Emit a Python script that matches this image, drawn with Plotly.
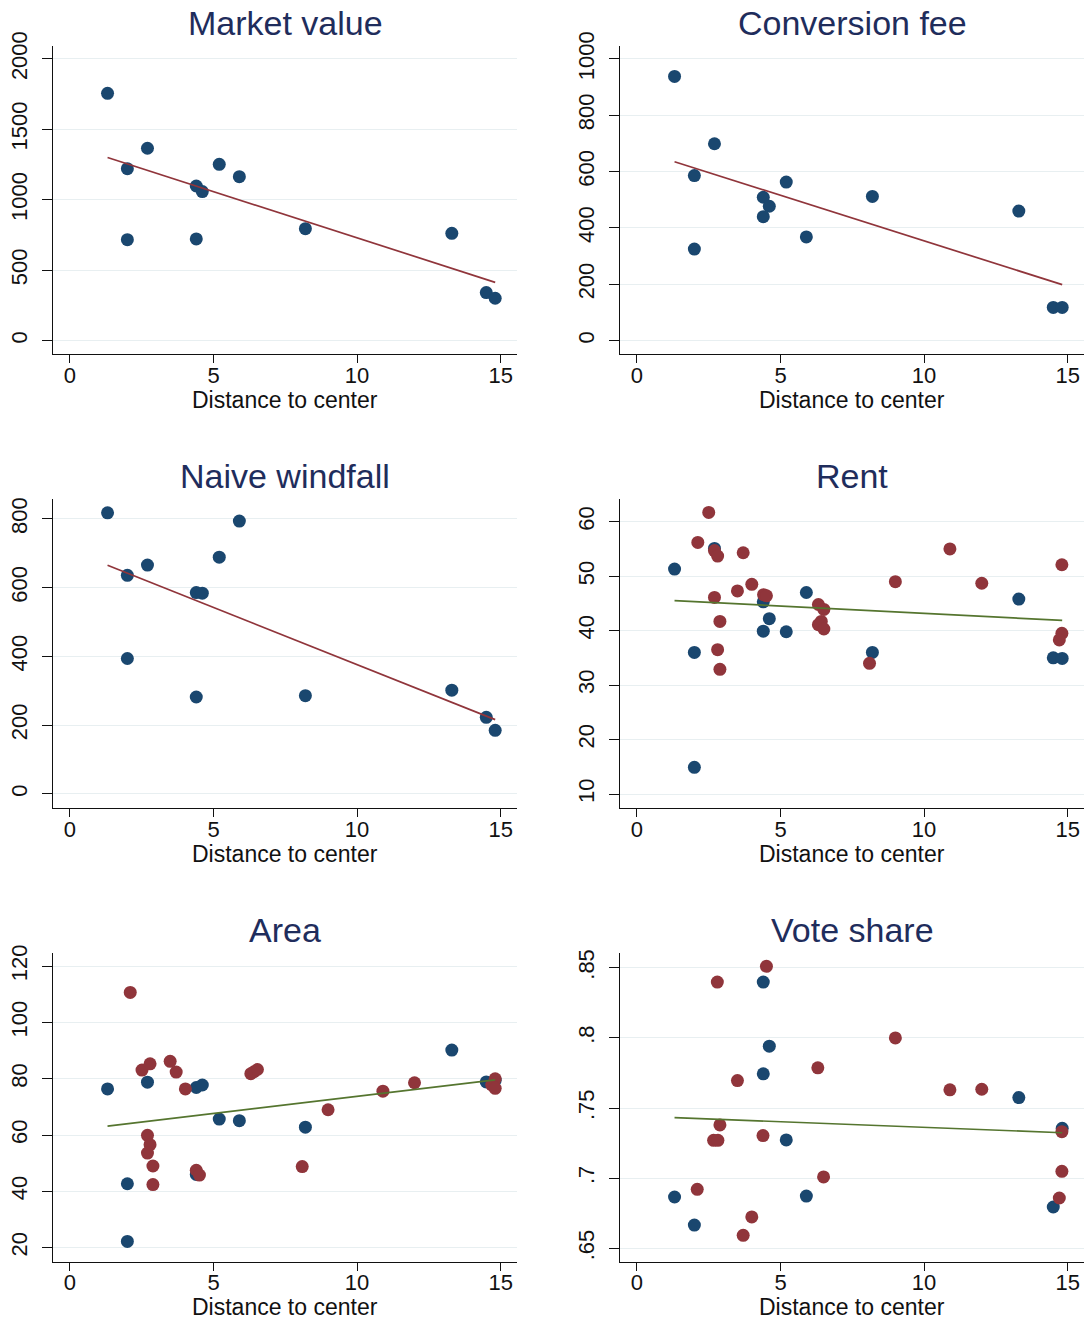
import numpy as np
import plotly.graph_objects as go

# ---------------- data ----------------
# distance to center for the 13 blue units (same units in every panel)
dist_blue = [1.31, 2.0, 2.0, 2.70, 4.40, 4.61, 4.40, 5.20, 5.90, 8.20, 13.30, 14.50, 14.81]

market_value = [1756, 1221, 717, 1366, 1098, 1058, 722, 1252, 1164, 795, 762, 341, 301]
conversion_fee = [938, 586, 325, 699, 509, 477, 440, 563, 368, 512, 460, 118, 118]
naive_windfall = [818, 636, 394, 666, 586, 584, 282, 689, 794, 286, 302, 223, 185]

rent_blue = [51.3, 36.0, 14.9, 55.1, 45.3, 42.2, 39.9, 39.8, 47.0, 36.0, 45.8, 35.0, 34.9]
area_blue = [76.4, 42.7, 22.2, 78.8, 76.9, 77.8, 46.0, 65.7, 65.1, 62.8, 90.2, 78.9, 79.5]
vote_blue = [0.6866, 0.6666, None, None, 0.8398, 0.7941, 0.7744, 0.7273, 0.6873, None, 0.7575, 0.6795, 0.7356]

rent_red_x = [2.12, 2.50, 2.70, 2.81, 3.70, 2.70, 3.50, 4.00, 4.41, 4.51, 2.89, 2.81, 2.89,
              6.32, 6.51, 6.42, 6.32, 6.51, 8.10, 9.00, 10.90, 12.01, 14.80, 14.80, 14.71]
rent_red_y = [56.2, 61.7, 54.7, 53.7, 54.3, 46.1, 47.3, 48.5, 46.6, 46.4, 41.7, 36.5, 32.9,
              44.8, 43.9, 41.7, 41.1, 40.3, 34.0, 49.0, 55.0, 48.7, 52.1, 39.5, 38.3]

area_red_x = [2.10, 2.51, 2.79, 3.49, 3.70, 4.02, 6.30, 6.41, 6.53, 10.90, 12.00, 14.81,
              14.69, 14.81, 8.99, 8.09, 2.70, 2.79, 2.70, 2.89, 2.89, 4.40, 4.51]
area_red_y = [110.7, 83.1, 85.3, 86.2, 82.4, 76.4, 81.8, 82.5, 83.3, 75.6, 78.6, 80.0,
              77.8, 76.6, 69.0, 48.8, 59.9, 56.6, 53.6, 49.0, 42.4, 47.5, 45.8]

vote_red_x = [2.80, 4.51, 9.00, 6.30, 3.50, 10.90, 12.01, 2.89, 2.67, 2.82, 4.39, 6.50,
              2.10, 4.00, 3.70, 14.80, 14.71, 14.80]
vote_red_y = [0.8398, 0.851, 0.800, 0.7787, 0.7696, 0.763, 0.7634, 0.738, 0.727, 0.727,
              0.7304, 0.7009, 0.6921, 0.6724, 0.6593, 0.7049, 0.6859, 0.7332]

titles = ["Market value", "Conversion fee", "Naive windfall", "Rent", "Area", "Vote share"]
x_ticks = [0, 5, 10, 15]
y_ticks = [
    [0, 500, 1000, 1500, 2000],
    [0, 200, 400, 600, 800, 1000],
    [0, 200, 400, 600, 800],
    [10, 20, 30, 40, 50, 60],
    [20, 40, 60, 80, 100, 120],
    [0.65, 0.70, 0.75, 0.80, 0.85],
]
y_tick_text = [
    ["0", "500", "1000", "1500", "2000"],
    ["0", "200", "400", "600", "800", "1000"],
    ["0", "200", "400", "600", "800"],
    ["10", "20", "30", "40", "50", "60"],
    ["20", "40", "60", "80", "100", "120"],
    [".65", ".7", ".75", ".8", ".85"],
]
x_label = "Distance to center"

# ---------------- styling / layout ----------------
W, H = 1087, 1320
NAVY = "#1a476f"
MAROON = "#90353b"
GREEN = "#55752f"
TITLE_C = "#1f2d5c"
GRID_C = "#e8eff1"
FONT = "Liberation Sans, Arial, Helvetica, sans-serif"

cols_px = [(53, 517), (620, 1084)]
rows_px = [(45.7, 354.3), (499.4, 808.0), (953.0, 1261.7)]
x_range = [-0.59, 15.57]
y_ranges = [[-97, 2094], [-48.5, 1047], [-41, 857], [7.43, 64.1], [15, 124.7], [0.6405, 0.8605]]

panels = [
    (dist_blue, market_value, None, None, MAROON),
    (dist_blue, conversion_fee, None, None, MAROON),
    (dist_blue, naive_windfall, None, None, MAROON),
    (dist_blue, rent_blue, rent_red_x, rent_red_y, GREEN),
    (dist_blue, area_blue, area_red_x, area_red_y, GREEN),
    (dist_blue, vote_blue, vote_red_x, vote_red_y, GREEN),
]

fig = go.Figure()
annotations = []
layout_axes = {}

for i, (bx, by, rx, ry, lc) in enumerate(panels):
    r, c = divmod(i, 2)
    n = i + 1
    xa = "x" if n == 1 else f"x{n}"
    ya = "y" if n == 1 else f"y{n}"
    x0, x1 = cols_px[c]
    top, bot = rows_px[r]

    fig.add_trace(go.Scatter(x=bx, y=by, mode="markers", xaxis=xa, yaxis=ya,
                             marker=dict(color=NAVY, size=13, line=dict(width=0)),
                             showlegend=False, hoverinfo="skip"))
    allx = [a for a, b in zip(bx, by) if b is not None]
    ally = [b for b in by if b is not None]
    if rx is not None:
        fig.add_trace(go.Scatter(x=rx, y=ry, mode="markers", xaxis=xa, yaxis=ya,
                                 marker=dict(color=MAROON, size=13, line=dict(width=0)),
                                 showlegend=False, hoverinfo="skip"))
        allx += list(rx)
        ally += list(ry)
    coef = np.polyfit(allx, ally, 1)
    lx = [min(allx), max(allx)]
    ly = list(np.polyval(coef, lx))
    fig.add_trace(go.Scatter(x=lx, y=ly, mode="lines", xaxis=xa, yaxis=ya,
                             line=dict(color=lc, width=1.7),
                             showlegend=False, hoverinfo="skip"))

    xkey = "xaxis" if n == 1 else f"xaxis{n}"
    ykey = "yaxis" if n == 1 else f"yaxis{n}"
    layout_axes[xkey] = dict(
        domain=[x0 / W, x1 / W], anchor=ya, range=x_range, automargin=False,
        tickvals=x_ticks, ticktext=[str(t) for t in x_ticks],
        showgrid=False, zeroline=False, showline=True, linecolor="#111111", linewidth=1.3,
        ticks="outside", ticklen=8, tickwidth=1.3, tickcolor="#111111",
        tickfont=dict(family=FONT, size=22, color="#111111"), ticklabelstandoff=-7,
    )
    layout_axes[ykey] = dict(
        domain=[1 - bot / H, 1 - top / H], anchor=xa, range=y_ranges[i], automargin=False,
        tickvals=y_ticks[i], ticktext=y_tick_text[i], tickangle=-90,
        showgrid=True, gridcolor=GRID_C, gridwidth=1.3, zeroline=False,
        showline=True, linecolor="#111111", linewidth=1.3,
        ticks="outside", ticklen=10, tickwidth=1.3, tickcolor="#111111",
        tickfont=dict(family=FONT, size=22, color="#111111"), ticklabelstandoff=6,
    )

    cx = (x0 + x1) / 2 / W
    annotations.append(dict(text=titles[i], x=cx, y=1 - (top - 23) / H, xref="paper", yref="paper",
                            xanchor="center", yanchor="middle", showarrow=False,
                            font=dict(family=FONT, size=34, color=TITLE_C)))
    annotations.append(dict(text=x_label, x=cx, y=1 - (bot + 45.5) / H, xref="paper", yref="paper",
                            xanchor="center", yanchor="middle", showarrow=False,
                            font=dict(family=FONT, size=23, color="#111111")))

fig.update_layout(
    width=W, height=H, margin=dict(l=0, r=0, t=0, b=0, autoexpand=False),
    paper_bgcolor="white", plot_bgcolor="white",
    annotations=annotations, showlegend=False,
    **layout_axes,
)

fig.write_html("out.html", include_plotlyjs=True, config={"displayModeBar": False},
               post_script="document.body.style.margin='0px';document.body.style.overflow='hidden';")
